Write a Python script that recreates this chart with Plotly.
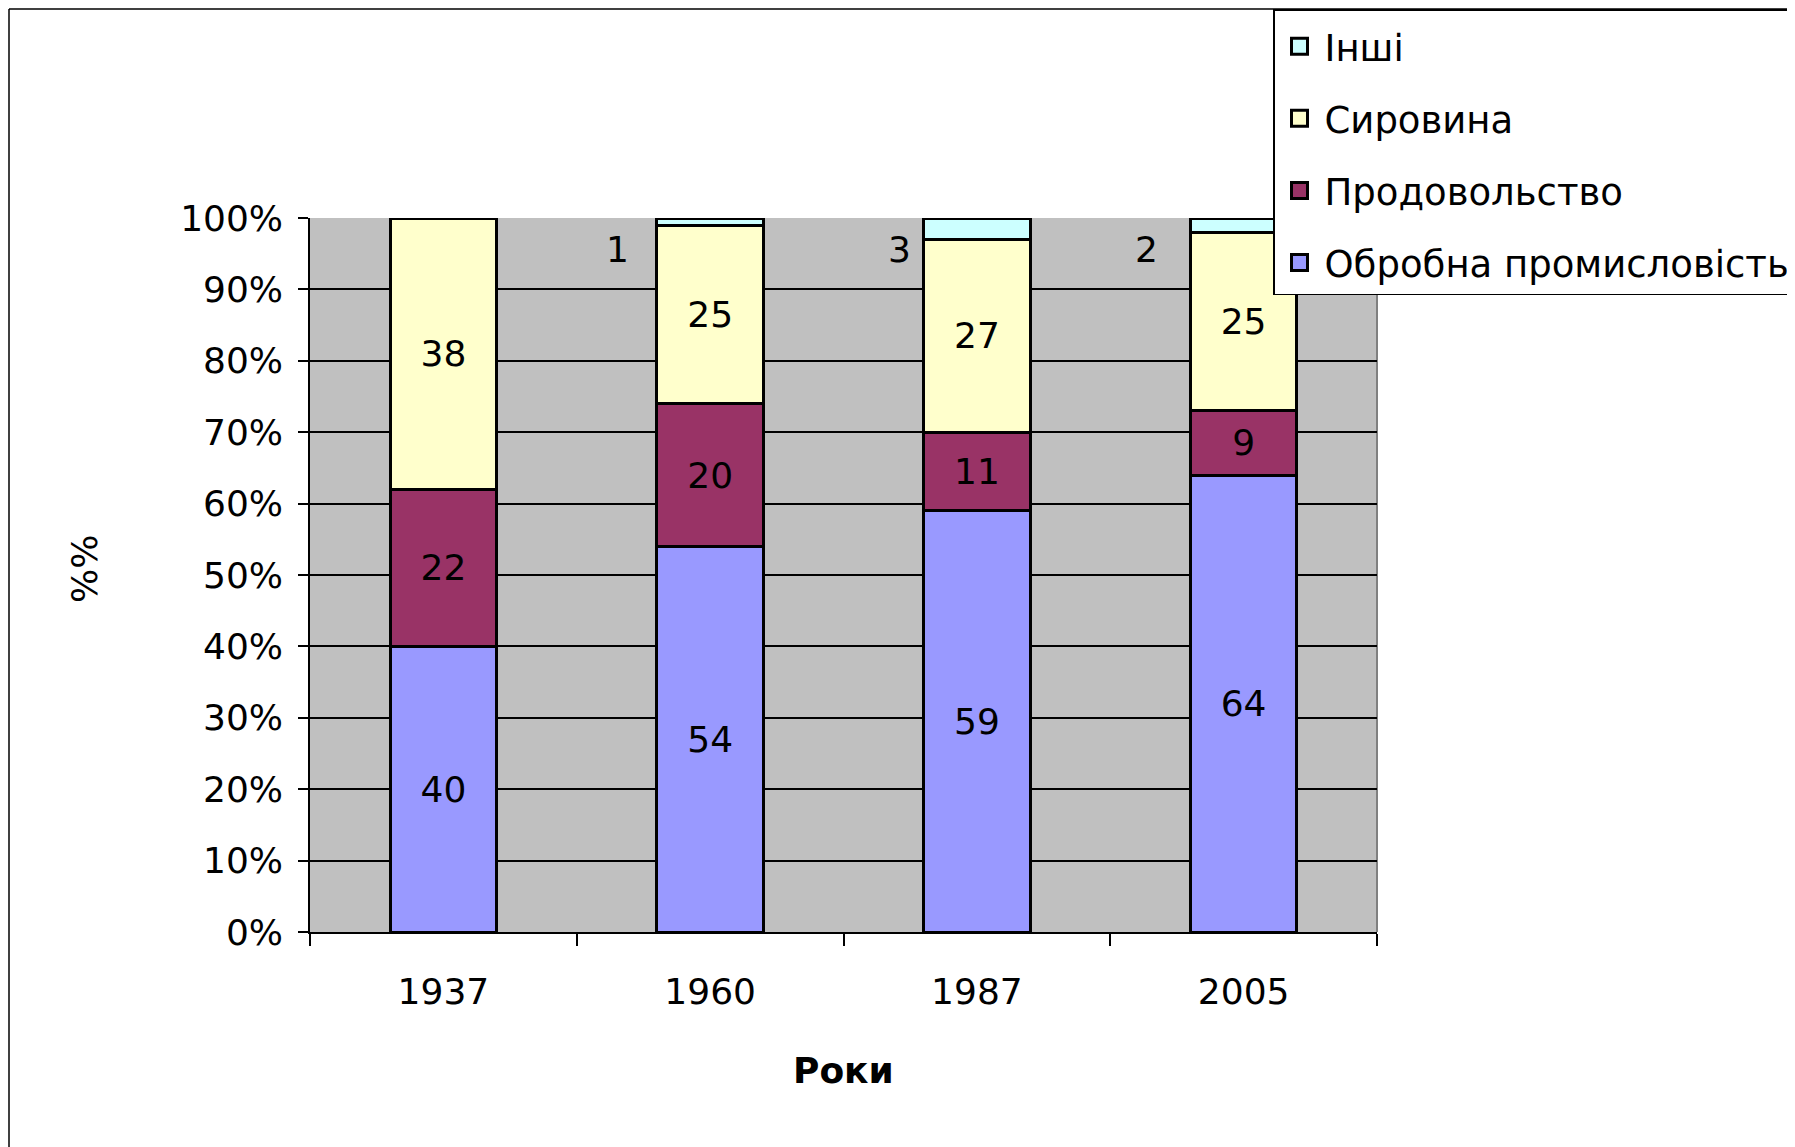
import plotly.graph_objects as go

years = ["1937", "1960", "1987", "2005"]
manufacturing = [40, 54, 59, 64]   # Обробна промисловість
food = [22, 20, 11, 9]             # Продовольство
raw = [38, 25, 27, 25]             # Сировина
other = [0, 1, 3, 2]               # Інші
y_ticks = [0, 10, 20, 30, 40, 50, 60, 70, 80, 90, 100]

FONT = "DejaVu Sans"
OFF = 8                      # page body margin
SW, SH = 1795, 1147          # screenshot size
W, H = SW - OFF, SH - OFF    # figure size
L, R, T, B = 310, 1377, 218, 932   # plot area in screenshot pixels
other_label_xshift = [-93, -93, -77, -97]   # placement of the small "Інші" labels

series = [
    ("Обробна промисловість", manufacturing, "#9999FF", 4),
    ("Продовольство", food, "#993366", 3),
    ("Сировина", raw, "#FFFFCC", 2),
    ("Інші", other, "#CCFFFF", 1),
]

pos = list(range(len(years)))
bounds = [p - 0.5 for p in pos] + [pos[-1] + 0.5]

fig = go.Figure()
for name, vals, col, rank in series:
    is_other = name == "Інші"
    fig.add_trace(go.Bar(
        x=pos, y=vals, name=name, showlegend=False,
        marker=dict(color=col, line=dict(color="black", width=3)),
        text=None if is_other else [str(v) for v in vals],
        textposition="none" if is_other else "inside",
        insidetextanchor="middle",
        textfont=dict(family=FONT, size=36, color="black"),
    ))
# legend entries (larger square swatches)
for name, vals, col, rank in series:
    fig.add_trace(go.Scatter(
        x=[None], y=[None], mode="markers", name=name,
        marker=dict(symbol="square", size=16, color=col,
                    line=dict(color="black", width=3)),
        legendgroup=name, legendrank=rank, showlegend=True,
    ))

def px_x(p):
    return (p - L) / (R - L)

def px_y(p):
    return (B - p) / (B - T)

annotations = []
for p, v, xs in zip(pos, other, other_label_xshift):
    if v > 0:
        annotations.append(dict(
            x=p, y=100, xref="x", yref="y", text=str(v), showarrow=False,
            xshift=xs, yshift=-31,
            font=dict(family=FONT, size=36, color="black"),
        ))
annotations.append(dict(
    x=0.5, y=px_y(1070), xref="paper", yref="paper", text="<b>Роки</b>",
    showarrow=False, font=dict(family=FONT, size=36, color="black"),
    xanchor="center", yanchor="middle",
))
annotations.append(dict(
    x=px_x(84), y=px_y(569), xref="paper", yref="paper", text="%%",
    showarrow=False, textangle=-90, font=dict(family=FONT, size=36, color="black"),
    xanchor="center", yanchor="middle",
))

shapes = [
    dict(type="line", xref="paper", yref="paper", x0=px_x(9), x1=px_x(9),
         y0=px_y(9), y1=px_y(SH + 5), line=dict(color="black", width=1.5)),
    dict(type="line", xref="paper", yref="paper", x0=px_x(9), x1=px_x(SW + 5),
         y0=px_y(9), y1=px_y(9), line=dict(color="black", width=1.5)),
    dict(type="line", xref="paper", yref="paper", x0=1, x1=1, y0=0, y1=1,
         line=dict(color="#808080", width=2), layer="below"),
]

fig.update_layout(
    width=W, height=H,
    margin=dict(l=L - OFF, r=SW - R, t=T - OFF, b=SH - B, autoexpand=False),
    paper_bgcolor="white", plot_bgcolor="#C0C0C0",
    barmode="stack", bargap=0.6,
    font=dict(family=FONT, size=36, color="black"),
    showlegend=True,
    legend=dict(
        x=px_x(1273), y=px_y(9), xanchor="left", yanchor="top",
        bgcolor="white", bordercolor="black", borderwidth=1.5,
        font=dict(family=FONT, size=37, color="black"),
        traceorder="grouped", tracegroupgap=21, itemwidth=40,
        title=dict(text=" ", font=dict(size=4)),
    ),
    annotations=annotations,
    shapes=shapes,
)
fig.update_xaxes(
    range=[bounds[0], bounds[-1]], tickvals=pos, ticktext=years, ticks="",
    minor=dict(tickvals=bounds, ticks="outside", ticklen=12, tickwidth=1.5,
               tickcolor="black", showgrid=False),
    showline=True, linecolor="black", linewidth=2, showgrid=False, zeroline=False,
    ticklabelstandoff=27,
    tickfont=dict(family=FONT, size=36, color="black"),
)
fig.update_yaxes(
    range=[0, 100], tickvals=y_ticks, ticktext=[f"{v}%" for v in y_ticks],
    ticks="outside", ticklen=10,
    tickwidth=1.5, tickcolor="black", showline=True, linecolor="black", linewidth=1.5,
    showgrid=True, gridcolor="black", gridwidth=1.5, zeroline=False,
    ticklabelstandoff=8,
    tickfont=dict(family=FONT, size=36, color="black"),
)

fig.write_html("out.html")
